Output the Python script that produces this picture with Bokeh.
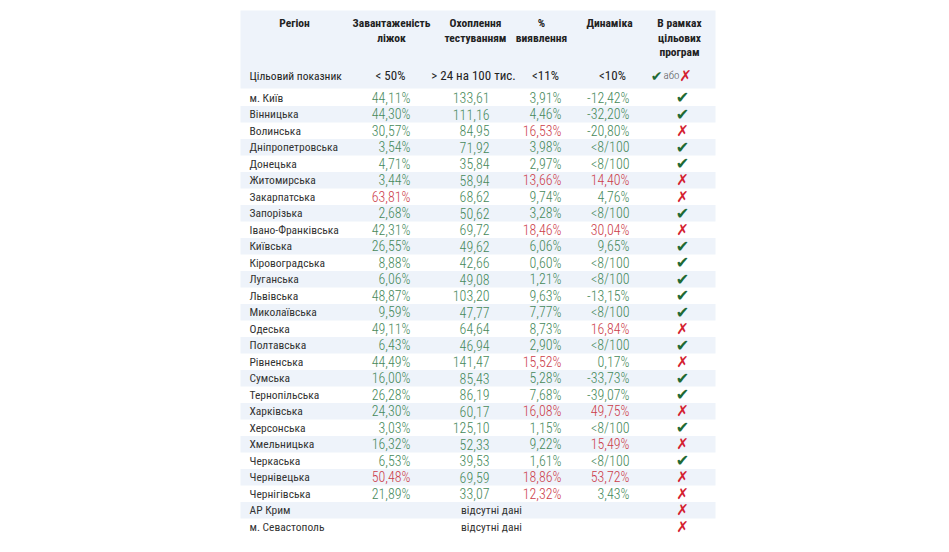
from bokeh.plotting import figure
from bokeh.models import Range1d, ColumnDataSource
from bokeh.core.properties import value
from bokeh.embed import file_html
from bokeh.resources import INLINE

regions = ["м. Київ", "Вінницька", "Волинська", "Дніпропетровська", "Донецька", "Житомирська",
           "Закарпатська", "Запорізька", "Івано-Франківська", "Київська", "Кіровоградська",
           "Луганська", "Львівська", "Миколаївська", "Одеська", "Полтавська", "Рівненська",
           "Сумська", "Тернопільська", "Харківська", "Херсонська", "Хмельницька", "Черкаська",
           "Чернівецька", "Чернігівська", "АР Крим", "м. Севастополь"]
beds = [44.11, 44.30, 30.57, 3.54, 4.71, 3.44, 63.81, 2.68, 42.31, 26.55, 8.88, 6.06, 48.87,
        9.59, 49.11, 6.43, 44.49, 16.00, 26.28, 24.30, 3.03, 16.32, 6.53, 50.48, 21.89, None, None]
testing = [133.61, 111.16, 84.95, 71.92, 35.84, 58.94, 68.62, 50.62, 69.72, 49.62, 42.66, 49.08,
           103.20, 47.77, 64.64, 46.94, 141.47, 85.43, 86.19, 60.17, 125.10, 52.33, 39.53, 69.59,
           33.07, None, None]
detect = [3.91, 4.46, 16.53, 3.98, 2.97, 13.66, 9.74, 3.28, 18.46, 6.06, 0.60, 1.21, 9.63, 7.77,
          8.73, 2.90, 15.52, 5.28, 7.68, 16.08, 1.15, 9.22, 1.61, 18.86, 12.32, None, None]
dynamics = [-12.42, -32.20, -20.80, "<8/100", "<8/100", 14.40, 4.76, "<8/100", 30.04, 9.65,
            "<8/100", "<8/100", -13.15, "<8/100", 16.84, "<8/100", 0.17, -33.73, -39.07, 49.75,
            "<8/100", 15.49, "<8/100", 53.72, 3.43, None, None]
in_program = [True, True, False, True, True, False, False, True, False, True, True, True, True,
              True, False, True, False, True, True, False, True, False, True, False, False,
              False, False]
headers = [["Регіон"], ["Завантаженість", "ліжок"], ["Охоплення", "тестуванням"],
           ["%", "виявлення"], ["Динаміка"], ["В рамках", "цільових", "програм"]]
targets = ["Цільовий показник", "< 50%", "> 24 на 100 тис.", "<11%", "<10%"]
missing_label = "відсутні дані"

FONT = "Roboto Condensed"
LIGHT = "Roboto Condensed Light"
GREEN = "#46895a"
RED = "#cc3d4a"
CHECK = "#1f6a34"
CROSS = "#d42030"
BAND = "#eef3fa"
DARK = "#222222"

W, H = 933, 536
p = figure(width=W, height=H, x_range=Range1d(0, W), y_range=Range1d(H, 0),
           output_backend="svg", toolbar_location=None, min_border=0)
p.axis.visible = False
p.grid.visible = False
p.outline_line_color = None
p.background_fill_color = "white"

x0, x1 = 240, 715
top0, rh = 89.0, 16.5

# header background
p.quad(left=[x0], right=[x1], top=[10], bottom=[88], fill_color=BAND, line_color=None)
# row bands
band_idx = [i for i in range(len(regions)) if i % 2 == 1]
p.quad(left=[x0] * len(band_idx), right=[x1] * len(band_idx),
       top=[top0 + rh * i for i in band_idx], bottom=[top0 + rh * (i + 1) for i in band_idx],
       fill_color=BAND, line_color=None)

# header texts
hx = [294, 391, 475, 541, 609, 679]
line_y = [22, 37, 51]
hxs, hys, hts = [], [], []
for cx, lines in zip(hx, headers):
    for j, t in enumerate(lines):
        hxs.append(cx); hys.append(line_y[j]); hts.append(t)
p.text(x=hxs, y=hys, text=hts, text_font=value(FONT), text_font_style="bold",
       text_font_size="11.5px", text_align="center", text_baseline="middle", text_color=DARK)

# target row
p.text(x=[249], y=[75], text=[targets[0]], text_font=value(FONT), text_font_size="11.5px",
       text_align="left", text_baseline="middle", text_color=DARK)
p.text(x=[390, 473, 545], y=[75] * 3, text=[targets[1], targets[2], targets[3]],
       text_font=value(FONT), text_font_size="13px", text_align="center",
       text_baseline="middle", text_color=DARK)
p.text(x=[612], y=[75], text=[targets[4]], text_font=value(FONT), text_font_size="13px",
       text_align="center", text_baseline="middle", text_color=DARK)
p.text(x=[656], y=[75], text=["✔"], text_font=value("DejaVu Sans"), text_font_size="14px",
       text_align="center", text_baseline="middle", text_color=CHECK)
p.text(x=[671], y=[75], text=["або"], text_font=value(LIGHT), text_font_size="11px",
       text_align="center", text_baseline="middle", text_color="#555555")
p.text(x=[685], y=[75], text=["✗"], text_font=value("DejaVu Sans"), text_font_size="15px",
       text_align="center", text_baseline="middle", text_color=CROSS, text_font_style="bold")

ycent = [top0 + rh * (i + 0.5) for i in range(len(regions))]

# region names
p.text(x=[249] * len(regions), y=ycent, text=regions, text_font=value(FONT),
       text_font_size="11.5px", text_align="left", text_baseline="middle", text_color="#333333")


def fmt(v, pct):
    s = f"{v:.2f}".replace(".", ",")
    return s + ("%" if pct else "")


def add_col(vals, xr, pct, good):
    xs, ys, ts, cs = [], [], [], []
    for i, v in enumerate(vals):
        if v is None:
            continue
        if isinstance(v, str):
            ts.append(v); cs.append(GREEN)
        else:
            ts.append(fmt(v, pct)); cs.append(GREEN if good(v) else RED)
        xs.append(xr); ys.append(ycent[i])
    src = ColumnDataSource(dict(x=xs, y=ys, t=ts, c=cs))
    p.text(x="x", y="y", text="t", text_color="c", source=src, text_font=value(LIGHT),
           text_font_size="14px", text_align="right", text_baseline="middle")


add_col(beds, 410, True, lambda v: v < 50)
add_col(testing, 489, False, lambda v: v > 24)
add_col(detect, 561, True, lambda v: v < 11)
add_col(dynamics, 629, True, lambda v: v < 10)

# missing data
mi = [i for i, v in enumerate(beds) if v is None]
p.text(x=[491] * len(mi), y=[ycent[i] for i in mi], text=[missing_label] * len(mi),
       text_font=value(FONT), text_font_size="11.5px", text_align="center",
       text_baseline="middle", text_color="#333333")

# program icons
ok = [i for i, v in enumerate(in_program) if v]
no = [i for i, v in enumerate(in_program) if not v]
p.text(x=[682] * len(ok), y=[ycent[i] for i in ok], text=["✔"] * len(ok),
       text_font=value("DejaVu Sans"), text_font_size="16px", text_align="center",
       text_baseline="middle", text_color=CHECK)
p.text(x=[682] * len(no), y=[ycent[i] for i in no], text=["✗"] * len(no),
       text_font=value("DejaVu Sans"), text_font_size="15px", text_font_style="bold",
       text_align="center", text_baseline="middle", text_color=CROSS)

open("out.html", "w").write(file_html(p, INLINE))
